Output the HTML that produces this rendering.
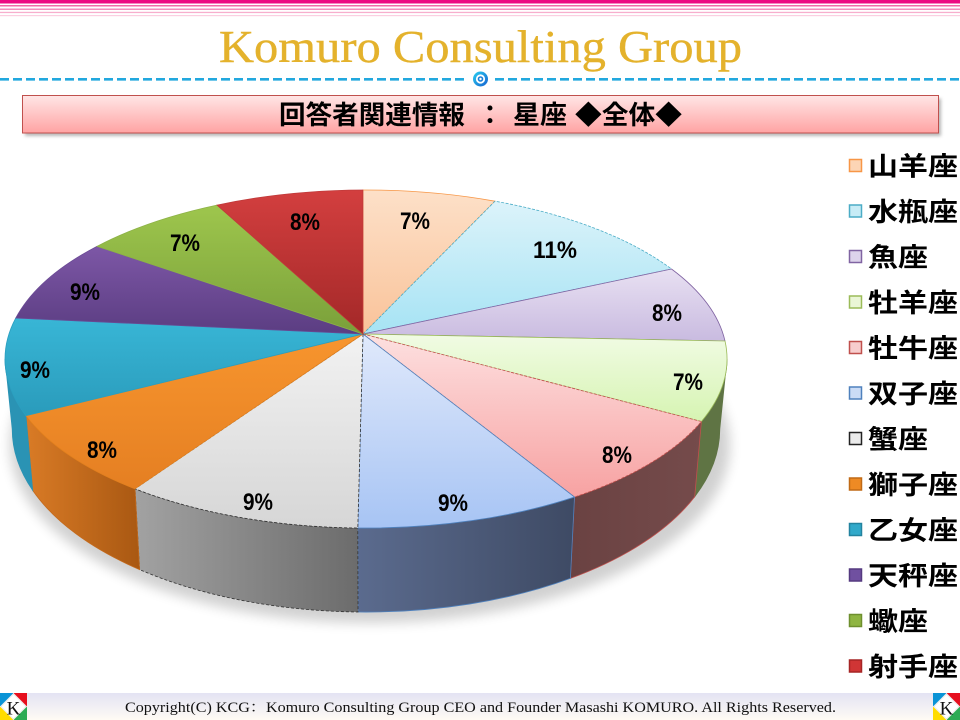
<!DOCTYPE html>
<html><head><meta charset="utf-8">
<style>
html,body{margin:0;padding:0;background:#fff;}
svg{display:block;}
</style></head>
<body>
<svg width="960" height="720" viewBox="0 0 960 720" xmlns="http://www.w3.org/2000/svg">
<defs>
  <linearGradient id="bar" x1="0" y1="0" x2="0" y2="1">
    <stop offset="0" stop-color="#ffe6e6"/><stop offset="1" stop-color="#ffa3a3"/>
  </linearGradient>
  <linearGradient id="foot" x1="0" y1="0" x2="0" y2="1">
    <stop offset="0" stop-color="#e3e3f3"/><stop offset="1" stop-color="#fffbf4"/>
  </linearGradient>
  <linearGradient id="gPeach" x1="0" y1="0" x2="0" y2="1"><stop offset="0" stop-color="#fde0c8"/><stop offset="1" stop-color="#f9c39a"/></linearGradient>
  <linearGradient id="gCyanL" x1="0" y1="0" x2="0" y2="1"><stop offset="0" stop-color="#dcf3fa"/><stop offset="1" stop-color="#a6e3f4"/></linearGradient>
  <linearGradient id="gLav" x1="0" y1="0" x2="0" y2="1"><stop offset="0" stop-color="#e8e0f2"/><stop offset="1" stop-color="#c9bbe0"/></linearGradient>
  <linearGradient id="gLG" x1="0" y1="0" x2="0" y2="1"><stop offset="0" stop-color="#f1fbe4"/><stop offset="1" stop-color="#d6f4b2"/></linearGradient>
  <linearGradient id="gPink" x1="0" y1="0" x2="0" y2="1"><stop offset="0" stop-color="#fde0e0"/><stop offset="1" stop-color="#f7a2a2"/></linearGradient>
  <linearGradient id="gBlue" x1="0" y1="0" x2="0" y2="1"><stop offset="0" stop-color="#e0e9fb"/><stop offset="1" stop-color="#a7c4f4"/></linearGradient>
  <linearGradient id="gGray" x1="0" y1="0" x2="0" y2="1"><stop offset="0" stop-color="#f2f2f2"/><stop offset="1" stop-color="#d6d6d6"/></linearGradient>
  <linearGradient id="gOr" x1="0" y1="0" x2="0" y2="1"><stop offset="0" stop-color="#f7952e"/><stop offset="1" stop-color="#e57f22"/></linearGradient>
  <linearGradient id="gCy" x1="0" y1="0" x2="0" y2="1"><stop offset="0" stop-color="#38b6d6"/><stop offset="1" stop-color="#2a9bbb"/></linearGradient>
  <linearGradient id="gPur" x1="0" y1="0" x2="0" y2="1"><stop offset="0" stop-color="#7d57a6"/><stop offset="1" stop-color="#5b3d82"/></linearGradient>
  <linearGradient id="gGr" x1="0" y1="0" x2="0" y2="1"><stop offset="0" stop-color="#9ec64d"/><stop offset="1" stop-color="#7aa03a"/></linearGradient>
  <linearGradient id="gRed" x1="0" y1="0" x2="0" y2="1"><stop offset="0" stop-color="#d33f3f"/><stop offset="1" stop-color="#a32828"/></linearGradient>
  <linearGradient id="sBlue" x1="0" y1="0" x2="1" y2="0"><stop offset="0" stop-color="#5b6b8e"/><stop offset="1" stop-color="#3e4a64"/></linearGradient>
  <linearGradient id="sGray" x1="0" y1="0" x2="1" y2="0"><stop offset="0" stop-color="#a2a2a2"/><stop offset="1" stop-color="#6c6c6c"/></linearGradient>
  <linearGradient id="sOr" x1="0" y1="0" x2="1" y2="0"><stop offset="0" stop-color="#d97b26"/><stop offset="1" stop-color="#a95812"/></linearGradient>
  <linearGradient id="sPink" x1="0" y1="0" x2="1" y2="0"><stop offset="0" stop-color="#6a4242"/><stop offset="1" stop-color="#754b4b"/></linearGradient>
  <linearGradient id="ring" x1="0" y1="0" x2="1" y2="1"><stop offset="0" stop-color="#2ad0f0"/><stop offset="1" stop-color="#1560d0"/></linearGradient>
  <filter id="blur" x="-20%" y="-20%" width="140%" height="140%"><feGaussianBlur stdDeviation="6"/></filter>
  <filter id="blur2" x="-5%" y="-50%" width="110%" height="200%"><feGaussianBlur stdDeviation="1.5"/></filter>
</defs>

<!-- top pink lines -->
<rect x="0" y="0" width="960" height="3.5" fill="#ec0a82"/>
<rect x="0" y="5" width="960" height="1.5" fill="#f06aa8"/>
<rect x="0" y="8.5" width="960" height="1.5" fill="#f38dbc"/>
<rect x="0" y="11.8" width="960" height="1.3" fill="#f7aecd"/>
<rect x="0" y="15" width="960" height="1.2" fill="#fbcfe1"/>

<!-- title -->
<text x="219" y="62" font-family="Liberation Serif, serif" font-size="46" fill="#e4b22c" stroke="#e4b22c" stroke-width="0.4" textLength="523" lengthAdjust="spacingAndGlyphs">Komuro Consulting Group</text>

<!-- dashed line with icon -->
<line x1="0" y1="79.3" x2="468" y2="79.3" stroke="#22a8de" stroke-width="2.6" stroke-dasharray="9 4"/>
<line x1="495" y1="79.3" x2="960" y2="79.3" stroke="#22a8de" stroke-width="2.6" stroke-dasharray="9 4"/>
<circle cx="480.5" cy="79" r="7.5" fill="url(#ring)"/>
<circle cx="480.5" cy="79" r="4.6" fill="#fff"/>
<circle cx="480.5" cy="79" r="2.8" fill="#1a7fd8"/>
<circle cx="480.5" cy="79" r="1.2" fill="#fff"/>

<!-- title bar -->
<rect x="25" y="98.5" width="916" height="37.5" fill="#9a9a9a" filter="url(#blur2)" opacity="0.7"/>
<rect x="22.5" y="95.5" width="916" height="37.5" fill="url(#bar)" stroke="#c0504d" stroke-width="1"/>
<g font-family="Liberation Sans, Noto Sans CJK JP, sans-serif" font-size="26" font-weight="bold" fill="#000">
  <text x="279" y="124" textLength="186" lengthAdjust="spacingAndGlyphs">回答者関連情報</text>
  <text x="477" y="124">：</text>
  <text x="513" y="124" textLength="54" lengthAdjust="spacingAndGlyphs">星座</text>
  <text x="575" y="124" textLength="107" lengthAdjust="spacingAndGlyphs">◆全体◆</text>
</g>

<!-- pie shadow -->
<ellipse cx="370" cy="445" rx="360" ry="178" fill="#000" opacity="0.18" filter="url(#blur)"/>

<!-- pie sides -->
<g stroke-width="0.8">
  <path d="M 727 359 A 361 169 0 0 1 701.4 421.5 L 694.7 496.7 A 353.8 183 0 0 0 719.8 429 Z" fill="#5f7444" stroke="#5f7444"/>
  <path d="M 701.4 421.5 A 361 169 0 0 1 574.5 497 L 570.4 578.4 A 353.8 183 0 0 0 694.7 496.7 Z" fill="url(#sPink)" stroke="#c0504d"/>
  <path d="M 574.5 497 A 361 169 0 0 1 357.8 528 L 358 612 A 353.8 183 0 0 0 570.4 578.4 Z" fill="url(#sBlue)" stroke="#4f81bd"/>
  <path d="M 357.8 528 A 361 169 0 0 1 135 488.8 L 139.6 569.6 A 353.8 183 0 0 0 358 612 Z" fill="url(#sGray)" stroke="#333" stroke-dasharray="3 2"/>
  <path d="M 135 488.8 A 361 169 0 0 1 25.9 415.7 L 32.7 490.4 A 353.8 183 0 0 0 139.6 569.6 Z" fill="url(#sOr)" stroke="#c46a1c"/>
  <path d="M 25.9 415.7 A 361 169 0 0 1 5 359 L 12.2 429 A 353.8 183 0 0 0 32.7 490.4 Z" fill="#2a93b4" stroke="#2a93b4"/>
</g>

<!-- pie top -->
<g stroke-width="0.8">
  <path d="M 363 334 L 362.9 190 A 361 169 0 0 1 495 201.2 Z" fill="url(#gPeach)" stroke="#f79646"/>
  <path d="M 363 334 L 495 201.2 A 361 169 0 0 1 671.5 269 Z" fill="url(#gCyanL)" stroke="#4bacc6" stroke-dasharray="3 1.5"/>
  <path d="M 363 334 L 671.5 269 A 361 169 0 0 1 725 341 Z" fill="url(#gLav)" stroke="#8064a2"/>
  <path d="M 363 334 L 725 341 A 361 169 0 0 1 701.4 421.5 Z" fill="url(#gLG)" stroke="#9bbb59"/>
  <path d="M 363 334 L 701.4 421.5 A 361 169 0 0 1 574.5 497 Z" fill="url(#gPink)" stroke="#c0504d" stroke-dasharray="3 1.5"/>
  <path d="M 363 334 L 574.5 497 A 361 169 0 0 1 357.8 528 Z" fill="url(#gBlue)" stroke="#4f81bd"/>
  <path d="M 363 334 L 357.8 528 A 361 169 0 0 1 135 488.8 Z" fill="url(#gGray)" stroke="#333" stroke-dasharray="3 2"/>
  <path d="M 363 334 L 135 488.8 A 361 169 0 0 1 25.9 415.7 Z" fill="url(#gOr)" stroke="#e2801e"/>
  <path d="M 363 334 L 25.9 415.7 A 361 169 0 0 1 15.8 318 Z" fill="url(#gCy)" stroke="#2b9fc0"/>
  <path d="M 363 334 L 15.8 318 A 361 169 0 0 1 97 246.3 Z" fill="url(#gPur)" stroke="#6a4a95"/>
  <path d="M 363 334 L 97 246.3 A 361 169 0 0 1 217 205.1 Z" fill="url(#gGr)" stroke="#8db247"/>
  <path d="M 363 334 L 217 205.1 A 361 169 0 0 1 362.9 190 Z" fill="url(#gRed)" stroke="#c03a3a"/>
</g>

<!-- pie labels -->
<g font-family="Liberation Sans, sans-serif" font-size="24" font-weight="bold" fill="#000" text-anchor="middle">
  <text x="415" y="229" textLength="30" lengthAdjust="spacingAndGlyphs">7%</text>
  <text x="555" y="258" textLength="44" lengthAdjust="spacingAndGlyphs">11%</text>
  <text x="667" y="321" textLength="30" lengthAdjust="spacingAndGlyphs">8%</text>
  <text x="688" y="390" textLength="30" lengthAdjust="spacingAndGlyphs">7%</text>
  <text x="617" y="463" textLength="30" lengthAdjust="spacingAndGlyphs">8%</text>
  <text x="453" y="511" textLength="30" lengthAdjust="spacingAndGlyphs">9%</text>
  <text x="258" y="510" textLength="30" lengthAdjust="spacingAndGlyphs">9%</text>
  <text x="102" y="458" textLength="30" lengthAdjust="spacingAndGlyphs">8%</text>
  <text x="35" y="378" textLength="30" lengthAdjust="spacingAndGlyphs">9%</text>
  <text x="85" y="300" textLength="30" lengthAdjust="spacingAndGlyphs">9%</text>
  <text x="185" y="251" textLength="30" lengthAdjust="spacingAndGlyphs">7%</text>
  <text x="305" y="230" textLength="30" lengthAdjust="spacingAndGlyphs">8%</text>
</g>

<!-- legend -->
<g stroke-width="1.5">
  <rect x="849.5" y="159.5" width="12" height="12" fill="#fcd5b5" stroke="#f79646"/>
  <rect x="849.5" y="205" width="12" height="12" fill="#c8ecf6" stroke="#4bacc6"/>
  <rect x="849.5" y="250.5" width="12" height="12" fill="#ddd3eb" stroke="#8064a2"/>
  <rect x="849.5" y="296" width="12" height="12" fill="#eaf6d6" stroke="#9bbb59"/>
  <rect x="849.5" y="341.5" width="12" height="12" fill="#f7cdcd" stroke="#c0504d"/>
  <rect x="849.5" y="387" width="12" height="12" fill="#cbdcf6" stroke="#4f81bd"/>
  <rect x="849.5" y="432.5" width="12" height="12" fill="#ebebeb" stroke="#222"/>
  <rect x="849.5" y="478" width="12" height="12" fill="#ee8a24" stroke="#c06a16"/>
  <rect x="849.5" y="523.5" width="12" height="12" fill="#31a9ca" stroke="#23839f"/>
  <rect x="849.5" y="569" width="12" height="12" fill="#7050a0" stroke="#553a80"/>
  <rect x="849.5" y="614.5" width="12" height="12" fill="#8fb542" stroke="#6e8f2e"/>
  <rect x="849.5" y="660" width="12" height="12" fill="#d03535" stroke="#a52525"/>
</g>
<g font-family="Liberation Sans, Noto Sans CJK JP, sans-serif" font-size="26" font-weight="bold" fill="#000" dominant-baseline="central">
  <text x="868" y="166.5" textLength="90" lengthAdjust="spacingAndGlyphs">山羊座</text>
  <text x="868" y="212" textLength="90" lengthAdjust="spacingAndGlyphs">水瓶座</text>
  <text x="868" y="257.5" textLength="60" lengthAdjust="spacingAndGlyphs">魚座</text>
  <text x="868" y="303" textLength="90" lengthAdjust="spacingAndGlyphs">牡羊座</text>
  <text x="868" y="348.5" textLength="90" lengthAdjust="spacingAndGlyphs">牡牛座</text>
  <text x="868" y="394" textLength="90" lengthAdjust="spacingAndGlyphs">双子座</text>
  <text x="868" y="439.5" textLength="60" lengthAdjust="spacingAndGlyphs">蟹座</text>
  <text x="868" y="485" textLength="90" lengthAdjust="spacingAndGlyphs">獅子座</text>
  <text x="868" y="530.5" textLength="90" lengthAdjust="spacingAndGlyphs">乙女座</text>
  <text x="868" y="576" textLength="90" lengthAdjust="spacingAndGlyphs">天秤座</text>
  <text x="868" y="621.5" textLength="60" lengthAdjust="spacingAndGlyphs">蠍座</text>
  <text x="868" y="667" textLength="90" lengthAdjust="spacingAndGlyphs">射手座</text>
</g>

<!-- footer -->
<rect x="0" y="693" width="960" height="27" fill="url(#foot)"/>
<text x="125" y="712" font-family="Liberation Serif, Noto Serif CJK SC, serif" font-size="14.5" fill="#111" textLength="711" lengthAdjust="spacingAndGlyphs">Copyright(C) KCG：Komuro Consulting Group   CEO and Founder   Masashi KOMURO. All Rights Reserved.</text>

<g>
  <rect x="0" y="693" width="27" height="27" fill="#fff"/>
  <polygon points="0,693 13.5,693 0,706.5" fill="#0a93d6"/>
  <polygon points="13.5,693 27,693 27,706.5" fill="#e60f1e"/>
  <polygon points="0,706.5 0,720 13.5,720" fill="#ffdc00"/>
  <polygon points="27,706.5 27,720 13.5,720" fill="#2cab54"/>
  <polygon points="13.5,694 26,706.5 13.5,719 1,706.5" fill="#fff" stroke="#ccc" stroke-width="0.5"/>
  <text x="13.5" y="714.5" font-family="Liberation Serif, serif" font-size="19" text-anchor="middle" fill="#111">K</text>
</g>
<g transform="translate(933,0)">
  <rect x="0" y="693" width="27" height="27" fill="#fff"/>
  <polygon points="0,693 13.5,693 0,706.5" fill="#0a93d6"/>
  <polygon points="13.5,693 27,693 27,706.5" fill="#e60f1e"/>
  <polygon points="0,706.5 0,720 13.5,720" fill="#ffdc00"/>
  <polygon points="27,706.5 27,720 13.5,720" fill="#2cab54"/>
  <polygon points="13.5,694 26,706.5 13.5,719 1,706.5" fill="#fff" stroke="#ccc" stroke-width="0.5"/>
  <text x="13.5" y="714.5" font-family="Liberation Serif, serif" font-size="19" text-anchor="middle" fill="#111">K</text>
</g>
</svg>
</body></html>
